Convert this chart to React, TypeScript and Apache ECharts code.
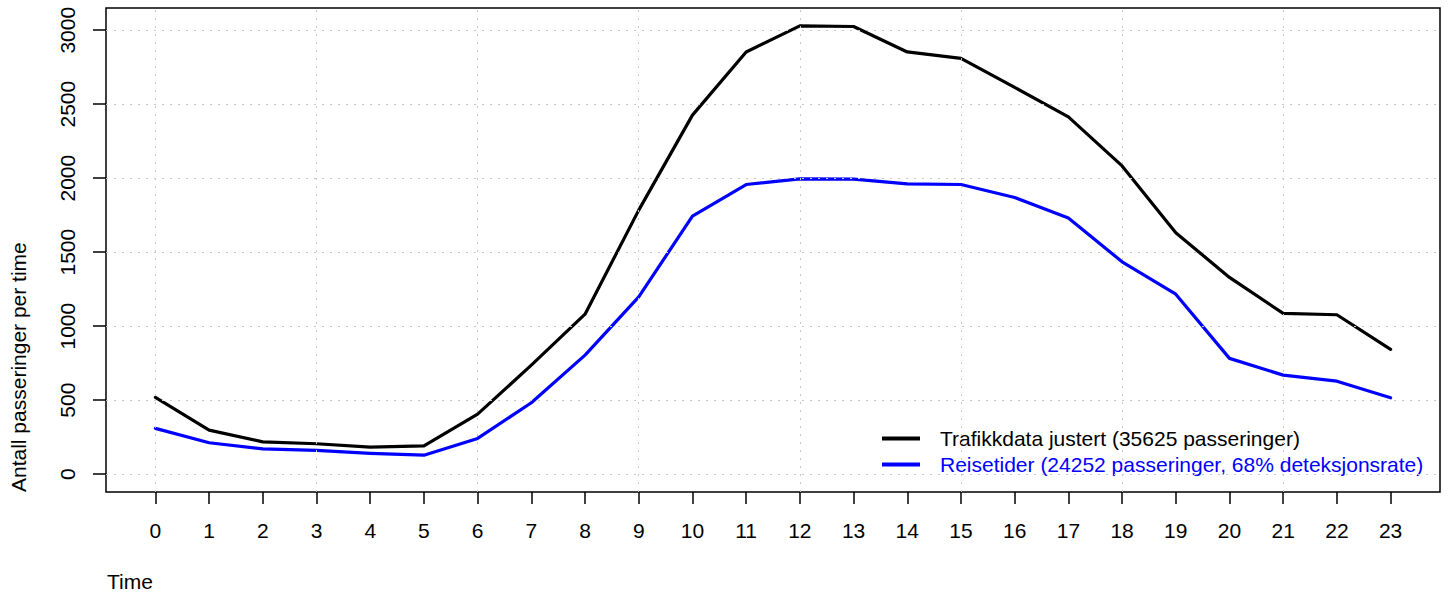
import React, { useEffect, useRef } from "react";
import * as echarts from "echarts";

const hours = [0, 1, 2, 3, 4, 5, 6, 7, 8, 9, 10, 11, 12, 13, 14, 15, 16, 17, 18, 19, 20, 21, 22, 23];
const trafikk = [518, 297, 218, 205, 182, 191, 405, 736, 1081, 1784, 2426, 2853, 3029, 3025, 2853, 2809, 2613, 2414, 2083, 1631, 1329, 1086, 1077, 843];
const reise = [309, 212, 171, 160, 140, 128, 241, 482, 804, 1198, 1743, 1957, 1995, 1993, 1962, 1957, 1869, 1730, 1435, 1216, 782, 669, 628, 516];
const yTicks = [0, 500, 1000, 1500, 2000, 2500, 3000];
const gridX = [0, 3, 6, 9, 12, 15, 18, 21];

const nameTrafikk = "Trafikkdata justert (35625 passeringer)";
const nameReise = "Reisetider (24252 passeringer, 68% deteksjonsrate)";

const FONT = '"Liberation Sans", Arial, Helvetica, sans-serif';
const FS = 21;

export default function App() {
  const ref = useRef<HTMLDivElement>(null);
  useEffect(() => {
    if (!ref.current) return;
    const chart = echarts.init(ref.current, null, { renderer: "svg" });
    const gridLine = { type: [2, 6], color: "#C8C8C8", width: 1 };
    chart.setOption({
      animation: false,
      textStyle: { fontFamily: FONT },
      grid: {
        left: 106,
        top: 8,
        width: 1334,
        height: 484,
        show: true,
        borderColor: "#000",
        borderWidth: 1.5,
        backgroundColor: "transparent",
      },
      xAxis: {
        type: "value",
        min: -0.92,
        max: 23.92,
        axisLine: { show: false, onZero: false },
        splitLine: { show: false },
        axisTick: { show: true, inside: false, customValues: hours, length: 12, lineStyle: { color: "#000", width: 1.5 } },
        axisLabel: {
          customValues: hours,
          margin: 28,
          fontSize: FS,
          color: "#000",
          fontFamily: FONT,
          formatter: (v: number) => String(v),
        },
      },
      yAxis: {
        type: "value",
        min: -121,
        max: 3150,
        axisLine: { show: false, onZero: false },
        splitLine: { show: false },
        axisTick: { show: true, inside: false, customValues: yTicks, length: 13, lineStyle: { color: "#000", width: 1.5 } },
        axisLabel: {
          customValues: yTicks,
          rotate: 90,
          margin: 28,
          fontSize: FS,
          color: "#000",
          fontFamily: FONT,
          formatter: (v: number) => String(v),
        },
      },
      legend: {
        orient: "vertical",
        left: 882,
        top: 428,
        padding: 0,
        itemWidth: 38,
        itemHeight: 4,
        itemGap: 5,
        selectedMode: false,
        icon: "rect",
        data: [
          { name: nameTrafikk, icon: "rect", textStyle: { color: "#000" } },
          { name: nameReise, icon: "rect", textStyle: { color: "#0000FF" } },
        ],
        textStyle: { fontSize: FS, fontFamily: FONT, padding: [0, 0, 0, 15] },
      },
      graphic: [
        {
          type: "text",
          x: 18,
          y: 492,
          rotation: Math.PI / 2,
          style: {
            text: "Antall passeringer per time",
            fontSize: FS,
            fontFamily: FONT,
            fill: "#000",
            textAlign: "left",
            textVerticalAlign: "middle",
          },
        },
        {
          type: "text",
          x: 107,
          y: 581,
          style: {
            text: "Time",
            fontSize: FS,
            fontFamily: FONT,
            fill: "#000",
            textAlign: "left",
            textVerticalAlign: "middle",
          },
        },
      ],
      series: [
        {
          type: "line",
          name: "grid",
          data: [],
          z: 1,
          silent: true,
          markLine: {
            silent: true,
            symbol: ["none", "none"],
            label: { show: false },
            lineStyle: gridLine,
            emphasis: { disabled: true },
            data: [
              ...gridX.map((v) => ({ xAxis: v })),
              ...yTicks.map((v) => ({ yAxis: v })),
            ],
          },
        },
        {
          type: "line",
          name: nameTrafikk,
          data: hours.map((h, i) => [h, trafikk[i]]),
          symbol: "none",
          z: 3,
          lineStyle: { color: "#000", width: 3.2, cap: "round", join: "round" },
          itemStyle: { color: "#000" },
          emphasis: { disabled: true },
        },
        {
          type: "line",
          name: nameReise,
          data: hours.map((h, i) => [h, reise[i]]),
          symbol: "none",
          z: 3,
          lineStyle: { color: "#0000FF", width: 3.2, cap: "round", join: "round" },
          itemStyle: { color: "#0000FF" },
          emphasis: { disabled: true },
        },
      ],
    });
    return () => chart.dispose();
  }, []);
  return (
    <div
      ref={ref}
      style={{ position: "absolute", left: 0, top: 0, width: 1451, height: 596, background: "#fff" }}
    />
  );
}
